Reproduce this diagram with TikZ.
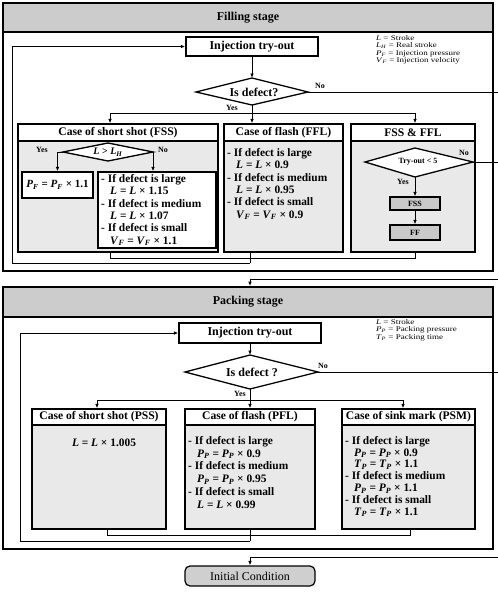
\documentclass[tikz,border=0pt]{standalone}
\usepackage{fontspec}
\setmainfont{Liberation Serif}
\usepackage{graphicx}
\usetikzlibrary{arrows.meta}

% italic variable with an italic subscript
\newcommand\mv[1]{\textit{#1}}
\newcommand\ms[2]{\textit{#1}\textsubscript{\textit{#2}}}
\newcommand\wide[1]{\scalebox{1.25}[1]{#1}}

\tikzset{
  stageframe/.style={draw, line width=1.6pt, inner sep=0pt},
  stagehead/.style={draw, line width=1.2pt, fill=gray!40, inner sep=0pt,
    font=\bfseries\fontsize{12}{13}\selectfont},
  proc/.style={draw, line width=1.3pt, fill=white, inner sep=0pt,
    font=\bfseries\fontsize{12}{13}\selectfont},
  casehead/.style={draw, line width=1.3pt, fill=white, inner sep=0pt,
    font=\bfseries\fontsize{11.6}{13}\selectfont},
  casebody/.style={draw, line width=1.3pt, fill=gray!17, inner sep=0pt},
  smallbox/.style={draw, line width=1.2pt, fill=gray!42, inner sep=0pt,
    font=\bfseries\fontsize{8}{9}\selectfont},
  whitebox/.style={draw, line width=1.3pt, fill=white, inner sep=0pt},
  dia/.style={draw, line width=1.3pt, fill=white},
  conn/.style={draw, line width=0.9pt},
  arr/.style={conn, -{Latex[length=4.5pt,width=3.6pt]}},
  bodytxt/.style={anchor=north west, inner sep=0pt, align=left,
    font=\bfseries\fontsize{11.4}{12.4}\selectfont},
  yn/.style={inner sep=0pt, font=\bfseries\fontsize{8}{9}\selectfont},
  legendtxt/.style={anchor=north west, inner sep=0pt, align=left,
    font=\fontsize{7.2}{7.6}\selectfont},
  dtext/.style={inner sep=0pt, font=\bfseries\fontsize{12}{13}\selectfont},
}

\begin{document}
\begin{tikzpicture}[x=1pt,y=-1pt]
\useasboundingbox (0,0) rectangle (498,592);

% ================= Filling stage =================
\node[stageframe, minimum width=490pt, minimum height=268pt] (fFrame) at (248,137) {};
\node[stagehead, minimum width=490pt, minimum height=29pt] (fHead) at (248,17.5) {Filling stage};

\node[proc, minimum width=132pt, minimum height=19pt] (fInj) at (252,46.5) {Injection try-out};

\node[legendtxt] (fLeg) at (376,35) {%
  \wide{\mv{L} = Stroke}\\
  \wide{\ms{L}{H} = Real stroke}\\
  \wide{\ms{P}{F} = Injection pressure}\\
  \wide{\ms{V}{F} = Injection velocity}};

% decision: is there a defect?
\coordinate (fdL) at (196,92);
\coordinate (fdT) at (252,78);
\coordinate (fdR) at (308,92);
\coordinate (fdB) at (252,105);
\path[dia] (fdL) -- (fdT) -- (fdR) -- (fdB) -- cycle;
\node[dtext] (fdTxt) at (254,92) {Is defect?};
\draw[arr] (fInj.south) -- (fdT);

\coordinate (fNoEnd) at (498,92);
\draw[conn] (fdR) -- (fNoEnd);
\node[yn] (fNo) at (320,86) {No};
\node[yn] (fYes) at (232,108) {Yes};

% branch to the three cases
\coordinate (fbJ) at (252,113);
\coordinate (fbL) at (110,113);
\coordinate (fbR) at (415,113);
\draw[conn] (fdB) -- (fbJ);
\draw[conn] (fbL) -- (fbR);

% case: short shot
\node[casehead, minimum width=200pt, minimum height=17pt] (fssH) at (118,132.5) {Case of short shot (FSS)};
\node[casebody, minimum width=200pt, minimum height=111pt] (fssB) at (118,196.5) {};
% case: flash
\node[casehead, minimum width=119pt, minimum height=17pt] (fflH) at (283.5,132.5) {Case of flash (FFL)};
\node[casebody, minimum width=119pt, minimum height=111pt] (fflB) at (283.5,196.5) {};
% case: both
\node[casehead, minimum width=124pt, minimum height=17pt] (ffH) at (413,132.5) {FSS \& FFL};
\node[casebody, minimum width=124pt, minimum height=111pt] (ffB) at (413,196.5) {};

\draw[arr] (fbL) -- (fbL |- fssH.north);
\draw[arr] (fbJ) -- (fbJ |- fflH.north);
\draw[arr] (fbR) -- (fbR |- ffH.north);

% short shot: stroke check
\coordinate (sdL) at (63,152);
\coordinate (sdT) at (108,143);
\coordinate (sdR) at (153,152);
\coordinate (sdB) at (108,161);
\path[dia] (sdL) -- (sdT) -- (sdR) -- (sdB) -- cycle;
\node[inner sep=0pt, font=\bfseries\fontsize{10}{11}\selectfont] (sdTxt) at (108,152) {\mv{L} > \ms{L}{H}};

\node[whitebox, minimum width=71pt, minimum height=26pt,
  font=\bfseries\fontsize{11}{12}\selectfont] (pfP) at (57.5,185) {\ms{P}{F} = \ms{P}{F} × 1.1};
\node[whitebox, minimum width=118pt, minimum height=76pt] (pfN) at (157,210) {};
\node[bodytxt] (pfNTxt) at (101,174) {%
  - If defect is large\\
  \hspace*{9pt}\mv{L} = \mv{L} × 1.15\\
  - If defect is medium\\
  \hspace*{9pt}\mv{L} = \mv{L} × 1.07\\
  - If defect is small\\
  \hspace*{9pt}\ms{V}{F} = \ms{V}{F} × 1.1};

\coordinate (sdY) at (57.5,152);
\draw[arr] (sdL) -- (sdY) -- (pfP.north);
\draw[arr] (sdR) -- (sdR |- pfN.north);
\node[yn] (sYes) at (42,150) {Yes};
\node[yn] (sNo) at (163,150) {No};

% flash text
\node[bodytxt] (fflTxt) at (227,148) {%
  - If defect is large\\
  \hspace*{9pt}\mv{L} = \mv{L} × 0.9\\
  - If defect is medium\\
  \hspace*{9pt}\mv{L} = \mv{L} × 0.95\\
  - If defect is small\\
  \hspace*{9pt}\ms{V}{F} = \ms{V}{F} × 0.9};

% both: try-out count
\coordinate (tdL) at (365,162);
\coordinate (tdT) at (415,148);
\coordinate (tdR) at (473,162);
\coordinate (tdB) at (415,177);
\path[dia] (tdL) -- (tdT) -- (tdR) -- (tdB) -- cycle;
\node[inner sep=0pt, font=\bfseries\fontsize{8}{9}\selectfont] (tdTxt) at (418,162) {Try-out < 5};
\node[smallbox, minimum width=50pt, minimum height=13pt] (tFss) at (415,203.5) {FSS};
\node[smallbox, minimum width=50pt, minimum height=15pt] (tFf) at (415,232.5) {FF};
\draw[arr] (tdB) -- (tFss.north);
\draw[arr] (tFss.south) -- (tFf.north);
\coordinate (tNoEnd) at (498,162);
\draw[conn] (tdR) -- (tNoEnd);
\node[yn] (tNo) at (464,153) {No};
\node[yn] (tYes) at (403,182) {Yes};

% back to the try-out
\coordinate (fm1) at (110,258);
\coordinate (fm2) at (415,258);
\coordinate (fm3) at (250,252);
\coordinate (fm4) at (250,263);
\coordinate (fm5) at (12,263);
\draw[conn] (fm1 |- fssB.south) -- (fm1) -- (fm2) -- (fm2 |- ffB.south);
\draw[conn] (fm3) -- (fm4);
\draw[arr] (fm4) -- (fm5) -- (fm5 |- fInj.west) -- (fInj.west);

% on to packing
\coordinate (rIn) at (498,279);
\coordinate (rJ) at (250,279);

% ================= Packing stage =================
\node[stageframe, minimum width=490pt, minimum height=262pt] (pFrame) at (248,418) {};
\node[stagehead, minimum width=490pt, minimum height=30pt] (pHead) at (248,302) {Packing stage};
\draw[arr] (rIn) -- (rJ) -- (rJ |- pFrame.north);

\node[proc, minimum width=142pt, minimum height=20pt] (pInj) at (250,333) {Injection try-out};
\node[legendtxt] (pLeg) at (376,319) {%
  \wide{\mv{L} = Stroke}\\
  \wide{\ms{P}{P} = Packing pressure}\\
  \wide{\ms{T}{P} = Packing time}};

\coordinate (pdL) at (185,372);
\coordinate (pdT) at (250,355);
\coordinate (pdR) at (318,372);
\coordinate (pdB) at (250,389);
\path[dia] (pdL) -- (pdT) -- (pdR) -- (pdB) -- cycle;
\node[dtext] (pdTxt) at (252,372) {Is defect ?};
\draw[arr] (pInj.south) -- (pdT);

\coordinate (pNoEnd) at (498,372);
\draw[conn] (pdR) -- (pNoEnd);
\node[yn] (pNo) at (323,366) {No};
\node[yn] (pYes) at (240,394) {Yes};

\coordinate (pbJ) at (250,400);
\coordinate (pbL) at (97,400);
\coordinate (pbR) at (403,400);
\draw[conn] (pdB) -- (pbJ);
\draw[conn] (pbL) -- (pbR);

\node[casehead, minimum width=134pt, minimum height=16pt] (pssH) at (99,417) {Case of short shot (PSS)};
\node[casebody, minimum width=134pt, minimum height=104pt] (pssB) at (99,477) {};
\node[casehead, minimum width=130pt, minimum height=16pt] (pflH) at (250,417) {Case of flash (PFL)};
\node[casebody, minimum width=130pt, minimum height=104pt] (pflB) at (250,477) {};
\node[casehead, minimum width=133pt, minimum height=16pt] (psmH) at (408.5,417) {Case of sink mark (PSM)};
\node[casebody, minimum width=133pt, minimum height=104pt] (psmB) at (408.5,477) {};

\draw[arr] (pbL) -- (pbL |- pssH.north);
\draw[arr] (pbJ) -- (pbJ |- pflH.north);
\draw[arr] (pbR) -- (pbR |- psmH.north);

\node[inner sep=0pt, font=\bfseries\fontsize{11.4}{12.4}\selectfont] (pssTxt) at (104,443) {\mv{L} = \mv{L} × 1.005};

\node[bodytxt, font=\bfseries\fontsize{11.4}{12.8}\selectfont] (pflTxt) at (188,436) {%
  - If defect is large\\
  \hspace*{9pt}\ms{P}{P} = \ms{P}{P} × 0.9\\
  - If defect is medium\\
  \hspace*{9pt}\ms{P}{P} = \ms{P}{P} × 0.95\\
  - If defect is small\\
  \hspace*{9pt}\mv{L} = \mv{L} × 0.99};

\node[bodytxt, font=\bfseries\fontsize{11.4}{11.8}\selectfont] (psmTxt) at (345,436) {%
  - If defect is large\\
  \hspace*{9pt}\ms{P}{P} = \ms{P}{P} × 0.9\\
  \hspace*{9pt}\ms{T}{P} = \ms{T}{P} × 1.1\\
  - If defect is medium\\
  \hspace*{9pt}\ms{P}{P} = \ms{P}{P} × 1.1\\
  - If defect is small\\
  \hspace*{9pt}\ms{T}{P} = \ms{T}{P} × 1.1};

% back to the try-out
\coordinate (pm1) at (107,535);
\coordinate (pm2) at (410,535);
\coordinate (pm3) at (250,529);
\coordinate (pm4) at (250,541);
\coordinate (pm5) at (20,541);
\draw[conn] (pm1 |- pssB.south) -- (pm1) -- (pm2) -- (pm2 |- psmB.south);
\draw[conn] (pm3) -- (pm4);
\draw[arr] (pm4) -- (pm5) -- (pm5 |- pInj.west) -- (pInj.west);

% ================= end =================
\coordinate (eIn) at (498,557);
\coordinate (eJ) at (250,557);
\node[draw, line width=1.2pt, fill=gray!38, rounded corners=5pt, inner sep=0pt,
  minimum width=130pt, minimum height=20pt,
  font=\fontsize{12}{13}\selectfont] (init) at (250,576) {Initial Condition};
\draw[arr] (eIn) -- (eJ) -- (init.north);

\end{tikzpicture}
\end{document}
